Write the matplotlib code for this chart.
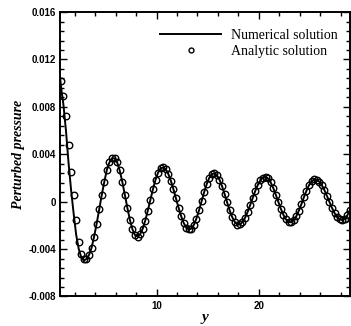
import matplotlib
matplotlib.use("Agg")
import matplotlib.pyplot as plt
from matplotlib.ticker import FixedLocator, MultipleLocator

# y positions (x axis of the plot), step 0.25
y_pos = [0.65 + 0.25 * i for i in range(114)]

# analytic solution (units of 1e-3)
p_analytic = [
    10.15, 8.95, 7.2, 4.8, 2.47, 0.57, -1.55, -3.43, -4.44, -4.85,
    -4.84, -4.5, -3.9, -2.95, -1.85, -0.65, 0.57, 1.69, 2.7, 3.32,
    3.65, 3.67, 3.33, 2.64, 1.7, 0.6, -0.52, -1.54, -2.34, -2.82,
    -2.945, -2.745, -2.28, -1.59, -0.75, 0.16, 1.05, 1.84, 2.45, 2.81,
    2.895, 2.73, 2.34, 1.77, 1.05, 0.275, -0.5, -1.21, -1.79, -2.18,
    -2.345, -2.27, -1.95, -1.42, -0.74, 0.025, 0.79, 1.47, 2.0, 2.32,
    2.395, 2.235, 1.86, 1.31, 0.65, -0.06, -0.74, -1.31, -1.72, -1.93,
    -1.92, -1.72, -1.36, -0.87, -0.29, 0.32, 0.91, 1.42, 1.81, 2.04,
    2.096, 1.96, 1.64, 1.17, 0.6, -0.01, -0.6, -1.12, -1.5, -1.71,
    -1.735, -1.57, -1.24, -0.77, -0.22, 0.37, 0.92, 1.39, 1.72, 1.885,
    1.87, 1.7, 1.39, 0.98, 0.49, -0.03, -0.53, -0.97, -1.3, -1.5,
    -1.545, -1.43, -1.15, -0.7,
]

# numerical solution: slightly ahead of the analytic one in the first drop
p_numerical = [
    9.8, 8.2, 6.0, 3.3, 1.0, -1.0, -2.8, -4.0, -4.7, -4.95,
] + p_analytic[10:]

y_num = [0.57] + y_pos
p_num = [10.6] + p_numerical

p_analytic = [v * 1e-3 for v in p_analytic]
p_num = [v * 1e-3 for v in p_num]

ytick_vals = [0.016, 0.012, 0.008, 0.004, 0.0, -0.004, -0.008]
ytick_text = ["0.016", "0.012", "0.008", "0.004", "0", "-0.004", "-0.008"]
xtick_vals = [10, 20]

fig = plt.figure(figsize=(3.51, 3.26), dpi=100)
ax = fig.add_axes([0.171, 0.0905, 0.826, 0.8725])

ax.plot(y_num, p_num, color="black", lw=1.4, label="Numerical solution")
ax.plot(y_pos, p_analytic, "o", ms=4.7, mfc="none", mec="black", mew=1.0,
        label="Analytic solution")

ax.set_xlim(0.57, 28.9)
ax.set_ylim(-0.008, 0.016)

ax.set_yticks(ytick_vals)
ax.set_yticklabels(ytick_text)
ax.yaxis.set_minor_locator(MultipleLocator(0.0008))
ax.set_xticks(xtick_vals)
ax.set_xticklabels([str(v) for v in xtick_vals])
ax.xaxis.set_minor_locator(FixedLocator([2, 4, 6, 8, 12, 14, 16, 18, 22, 24, 26, 28]))

ax.tick_params(which="both", direction="in", top=True, right=True, width=1.0)
ax.tick_params(which="major", length=5, labelsize=7, pad=3)
ax.tick_params(which="minor", length=3)
for lab in ax.get_xticklabels() + ax.get_yticklabels():
    lab.set_family("Liberation Sans")
    lab.set_weight("bold")
for sp in ax.spines.values():
    sp.set_linewidth(1.4)

ax.set_ylabel("Perturbed pressure", family="Liberation Serif", style="italic",
              weight="bold", fontsize=10, labelpad=2)
ax.set_xlabel("y", family="Liberation Serif", style="italic", weight="bold",
              fontsize=11, labelpad=0)

leg = ax.legend(loc="upper left", bbox_to_anchor=(160 / 351, 1 - 29 / 326),
                bbox_transform=fig.transFigure, frameon=False, borderpad=0,
                borderaxespad=0, handlelength=4.4, handletextpad=0.7,
                labelspacing=0.2, markerscale=0.75,
                prop={"family": "Liberation Serif", "size": 10})

fig.savefig("out.png", dpi=100)
